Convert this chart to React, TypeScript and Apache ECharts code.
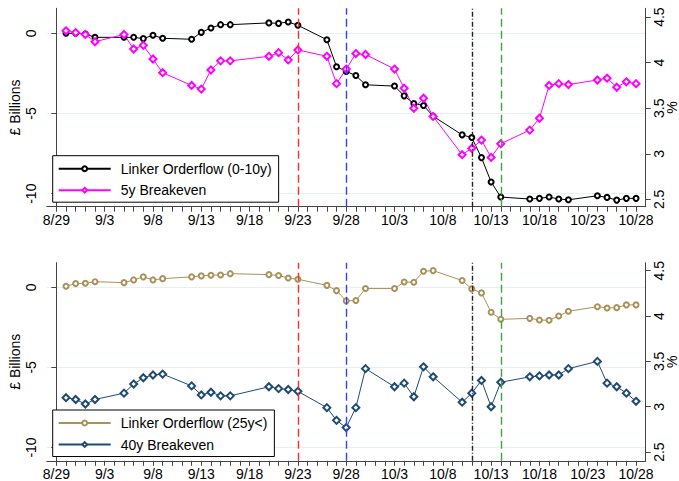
import React, { useEffect, useRef } from "react";
import * as echarts from "echarts";

const dates = [
  "8/30", "8/31", "9/1", "9/2",
  "9/5", "9/6", "9/7", "9/8", "9/9",
  "9/12", "9/13", "9/14", "9/15", "9/16",
  "9/20", "9/21", "9/22", "9/23",
  "9/26", "9/27", "9/28", "9/29", "9/30",
  "10/3", "10/4", "10/5", "10/6", "10/7",
  "10/10", "10/11", "10/12", "10/13", "10/14",
  "10/17", "10/18", "10/19", "10/20", "10/21",
  "10/24", "10/25", "10/26", "10/27", "10/28",
];

const linker010 = [
  0.0, 0.0, -0.04, -0.25,
  -0.25, -0.25, -0.33, -0.12, -0.31,
  -0.37, 0.06, 0.33, 0.54, 0.54,
  0.65, 0.62, 0.71, 0.5,
  -0.4, -2.08, -2.38, -2.63, -3.21,
  -3.29, -3.9, -4.38, -4.5, -5.17,
  -6.33, -6.5, -7.75, -9.27, -10.21,
  -10.33, -10.29, -10.21, -10.33, -10.38,
  -10.13, -10.23, -10.4, -10.29, -10.29,
];

const breakeven5y = [
  4.35, 4.33, 4.31, 4.23,
  4.31, 4.15, 4.19, 4.04, 3.89,
  3.75, 3.71, 3.92, 4.02, 4.02,
  4.07, 4.11, 4.03, 4.14,
  4.07, 3.77, 3.93, 4.1, 4.09,
  3.93, 3.72, 3.5, 3.61, 3.41,
  2.99, 3.06, 3.15, 2.96, 3.11,
  3.26, 3.39, 3.75, 3.77, 3.76,
  3.81, 3.83, 3.73, 3.79, 3.77,
];

const linker25 = [
  0.06, 0.23, 0.25, 0.35,
  0.29, 0.46, 0.65, 0.46, 0.54,
  0.65, 0.71, 0.75, 0.77, 0.85,
  0.79, 0.73, 0.58, 0.5,
  0.12, -0.21, -0.85, -0.83, -0.08,
  -0.08, 0.33, 0.31, 1.0, 1.04,
  0.42, -0.1, -0.35, -1.56, -2.0,
  -1.94, -2.04, -2.06, -1.79, -1.5,
  -1.21, -1.29, -1.27, -1.1, -1.1,
];

const breakeven40y = [
  3.1, 3.08, 3.03, 3.08,
  3.15, 3.25, 3.32, 3.35, 3.36,
  3.23, 3.13, 3.16, 3.12, 3.12,
  3.22, 3.2, 3.19, 3.17,
  2.99, 2.85, 2.77, 2.99, 3.42,
  3.22, 3.26, 3.11, 3.44, 3.33,
  3.05, 3.15, 3.29, 3.0, 3.27,
  3.33, 3.34, 3.35, 3.35, 3.42,
  3.5, 3.26, 3.22, 3.15, 3.06,
];

const xTickLabels = ["8/29", "9/3", "9/8", "9/13", "9/18", "9/23", "9/28", "10/3", "10/8", "10/13", "10/18", "10/23", "10/28"];
const leftTicks = [-10, -5, 0];
const rightTicks = [2.5, 3, 3.5, 4, 4.5];
const eventLines = [
  { date: "9/23", color: "#ff2a2a", dash: [8, 4] },
  { date: "9/28", color: "#3440ff", dash: [8, 4] },
  { date: "10/11", color: "#222222", dash: [5, 2, 1, 2] },
  { date: "10/14", color: "#3fa33f", dash: [8, 4] },
];

const BASE = Date.UTC(2022, 7, 29);
const DAY = 86400000;
function dayOf(md: string): number {
  const [m, d] = md.split("/").map(Number);
  return Math.round((Date.UTC(2022, m - 1, d) - BASE) / DAY);
}
function labelOf(day: number): string {
  const dt = new Date(BASE + Math.round(day) * DAY);
  return `${dt.getUTCMonth() + 1}/${dt.getUTCDate()}`;
}

const FONT = "'Liberation Sans', Arial, Helvetica, sans-serif";
const AXIS_COLOR = "#444";

export default function App() {
  const ref = useRef<HTMLDivElement>(null);

  useEffect(() => {
    if (!ref.current) return;
    const chart = echarts.init(ref.current, undefined, { renderer: "svg" });
    const xDays = dates.map(dayOf);
    const xLabelDays = xTickLabels.map(dayOf);
    const firstDay = xLabelDays[0];
    const lastDay = xLabelDays[xLabelDays.length - 1];
    const dailyTicks: number[] = [];
    for (let d = firstDay; d <= lastDay; d++) dailyTicks.push(d);

    const pairs = (vals: number[]) => xDays.map((x, i) => [x, vals[i]]);

    const xAxis = (gridIndex: number) => ({
      type: "value",
      gridIndex,
      min: firstDay - 1,
      max: lastDay + 1,
      axisLine: { show: true, onZero: false, lineStyle: { color: AXIS_COLOR, width: 1 } },
      axisTick: { show: true, length: 5, customValues: dailyTicks, lineStyle: { color: AXIS_COLOR } },
      axisLabel: {
        customValues: xLabelDays,
        formatter: (v: number) => labelOf(v),
        fontSize: 14,
        color: "#000",
        fontFamily: FONT,
        margin: 6,
        hideOverlap: false,
      },
      splitLine: { show: false },
    });

    const leftAxis = (gridIndex: number, min: number, max: number) => ({
      type: "value",
      gridIndex,
      position: "left",
      min,
      max,
      name: "£ Billions",
      nameLocation: "middle",
      nameRotate: 90,
      nameGap: 25,
      nameMoveOverlap: false,
      nameTextStyle: { fontSize: 14, color: "#000", fontFamily: FONT },
      axisLine: { show: true, lineStyle: { color: AXIS_COLOR, width: 1 } },
      axisTick: { show: true, length: 5, customValues: leftTicks, lineStyle: { color: AXIS_COLOR } },
      axisLabel: { show: false, customValues: leftTicks },
      splitLine: { show: true, lineStyle: { color: "#e6eff1", width: 1 } },
    });

    const rightAxis = (gridIndex: number, min: number, max: number) => ({
      type: "value",
      gridIndex,
      position: "right",
      min,
      max,
      name: "%",
      nameLocation: "middle",
      nameRotate: 90,
      nameGap: 19,
      nameMoveOverlap: false,
      nameTextStyle: { fontSize: 14, lineHeight: 14, color: "#000", fontFamily: FONT },
      axisLine: { show: true, lineStyle: { color: AXIS_COLOR, width: 1 } },
      axisTick: { show: true, length: 5, customValues: rightTicks, lineStyle: { color: AXIS_COLOR } },
      axisLabel: { customValues: rightTicks, rotate: 90, fontSize: 14, color: "#000", fontFamily: FONT, margin: 6 },
      splitLine: { show: false },
    });

    const markLine = {
      silent: true,
      symbol: ["none", "none"],
      label: { show: false },
      animation: false,
      data: eventLines.map((e) => ({
        xAxis: dayOf(e.date),
        lineStyle: { color: e.color, type: e.dash, width: 1.4 },
      })),
    };

    const lineSeries = (name: string, vals: number[], xi: number, yi: number, color: string, symbol: string, size: number, extra: any = {}) => ({
      name,
      type: "line",
      xAxisIndex: xi,
      yAxisIndex: yi,
      data: pairs(vals),
      symbol,
      symbolSize: size,
      showAllSymbol: true,
      lineStyle: { color, width: 1 },
      itemStyle: { color, borderWidth: 1 },
      emphasis: { disabled: true },
      ...extra,
    });

    const legend = (names: string[], top: number) => ({
      data: names,
      orient: "vertical",
      left: 52.7,
      top,
      itemWidth: 52,
      itemHeight: 6,
      itemGap: 7.5,
      padding: [6, 7, 5, 5],
      borderColor: "#000",
      borderWidth: 1,
      borderRadius: 0,
      backgroundColor: "#fff",
      textStyle: { fontSize: 14, color: "#000", fontFamily: FONT, padding: [0, 0, 0, 5] },
    });

    const gridBase = { left: 46.7, right: 33.3, containLabel: false, outerBoundsMode: "none" };

    chart.setOption({
      animation: false,
      backgroundColor: "#fff",
      grid: [
        { ...gridBase, top: 8.3, height: 198.4 },
        { ...gridBase, top: 262.7, height: 198.1 },
      ],
      xAxis: [xAxis(0), xAxis(1)],
      yAxis: [
        leftAxis(0, -10.81, 1.56),
        rightAxis(0, 2.419, 4.597),
        leftAxis(1, -10.83, 1.534),
        rightAxis(1, 2.404, 4.588),
      ],
      legend: [
        legend(["Linker Orderflow (0-10y)", "5y Breakeven"], 155.7),
        legend(["Linker Orderflow (25y<)", "40y Breakeven"], 410),
      ],
      series: [
        lineSeries("Linker Orderflow (0-10y)", linker010, 0, 0, "#000000", "emptyCircle", 5, { markLine, z: 3 }),
        lineSeries("5y Breakeven", breakeven5y, 0, 1, "#ff00ff", "emptyDiamond", 7),
        lineSeries("Linker Orderflow (25y<)", linker25, 1, 2, "#a8925a", "emptyCircle", 5, { markLine, z: 3 }),
        lineSeries("40y Breakeven", breakeven40y, 1, 3, "#1f4a74", "emptyDiamond", 7),
      ],
    });

    // Left-axis tick labels, rotated to read bottom-to-top, placed through the axis scales.
    const labelGraphics: any[] = [];
    [0, 2].forEach((yAxisIndex) => {
      const xLeft = chart.convertToPixel({ xAxisIndex: yAxisIndex === 0 ? 0 : 1 }, firstDay - 1) as number;
      leftTicks.forEach((v) => {
        const y = chart.convertToPixel({ yAxisIndex }, v) as number;
        labelGraphics.push({
          type: "text",
          x: xLeft - 15.5,
          y,
          rotation: Math.PI / 2,
          silent: true,
          style: {
            text: String(v),
            fontSize: 14,
            fontFamily: FONT,
            fill: "#000",
            align: "center",
            verticalAlign: "middle",
          },
        });
      });
    });
    chart.setOption({ graphic: labelGraphics });

    return () => chart.dispose();
  }, []);

  return (
    <div
      ref={ref}
      style={{ position: "absolute", left: 0, top: 0, width: 679, height: 481 }}
    />
  );
}
